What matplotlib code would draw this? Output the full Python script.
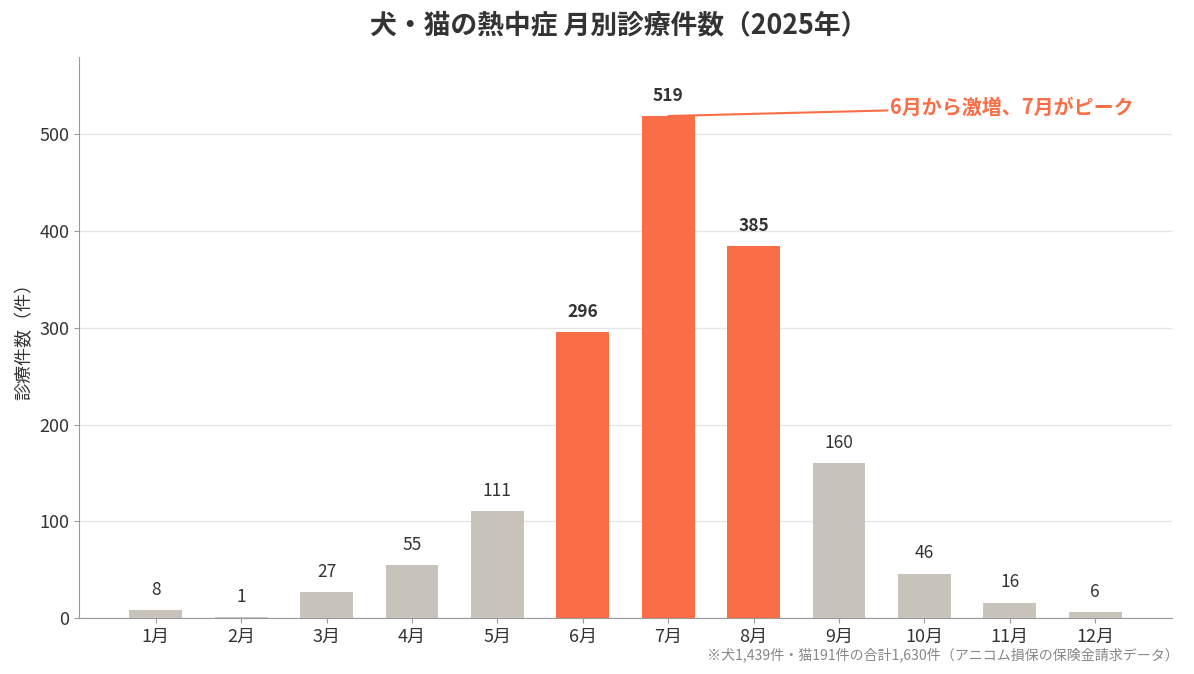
import matplotlib
matplotlib.use('Agg')
import matplotlib.pyplot as plt
import numpy as np

plt.rcParams['font.family'] = ['Noto Sans CJK JP', 'DejaVu Sans']

months = ['1月', '2月', '3月', '4月', '5月', '6月', '7月', '8月', '9月', '10月', '11月', '12月']
cases = [8, 1, 27, 55, 111, 296, 519, 385, 160, 46, 16, 6]
highlight = ['6月', '7月', '8月']

title = '犬・猫の熱中症 月別診療件数（2025年）'
ylabel = '診療件数（件）'
note = '6月から激増、7月がピーク'
footnote = '※犬1,439件・猫191件の合計1,630件（アニコム損保の保険金請求データ）'

orange = '#F96E46'
grey = '#C8C4BB'
dark = '#333333'

fig = plt.figure(figsize=(11.94, 6.74), dpi=100)
ax = fig.add_axes([79/1194, 1-618/674, (1172-79)/1194, (618-57)/674])

x = np.arange(len(months))
colors = [orange if m in highlight else grey for m in months]
bars = ax.bar(x, cases, width=0.62, color=colors, zorder=3)

for xi, v, m in zip(x, cases, months):
    hot = m in highlight
    ax.annotate(str(v), (xi, v), xytext=(0, 8), textcoords='offset points',
                ha='center', va='bottom', fontsize=12.5, color=dark,
                fontweight='bold' if hot else 'normal')

ax.annotate(note, xy=(6, cases[6]), xytext=(8.6, 528),
            fontsize=14.4, fontweight='bold', color=orange, ha='left', va='center',
            arrowprops=dict(arrowstyle='-', color=orange, lw=1.5, shrinkA=0, shrinkB=0))

ax.set_xlim(-0.9, 11.9)
ax.set_ylim(0, 580)
ax.set_xticks(x)
ax.set_xticklabels(months, fontsize=13, color=dark)
ax.set_yticks([0, 100, 200, 300, 400, 500])
ax.tick_params(axis='y', labelsize=13, labelcolor=dark, color='#999999')
ax.tick_params(axis='x', color='#999999')
ax.set_ylabel(ylabel, fontsize=13, color=dark)
ax.grid(axis='y', color='#E6E6E6', lw=1, zorder=0)
for s in ['top', 'right']:
    ax.spines[s].set_visible(False)
for s in ['left', 'bottom']:
    ax.spines[s].set_color('#999999')

fig.text(619/1194, 1-25/674, title, ha='center', va='center', fontsize=19.3,
         fontweight='bold', color=dark)
fig.text(1179/1194, 1-655/674, footnote, ha='right', va='center', fontsize=10.1,
         color='#888888')

fig.savefig('out.png', dpi=100)
